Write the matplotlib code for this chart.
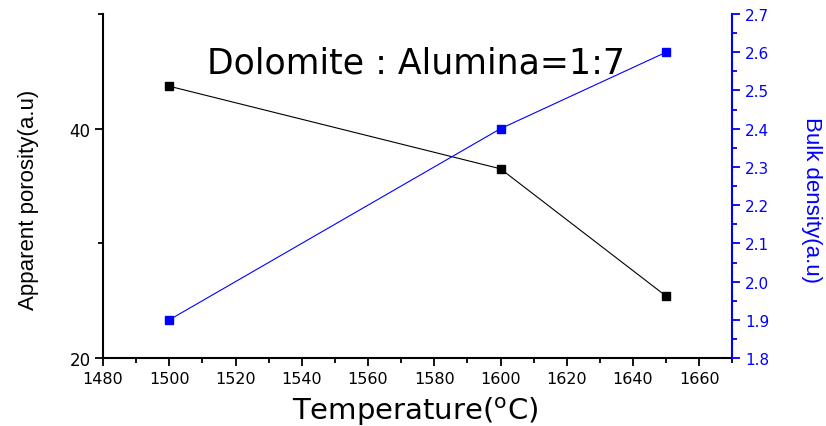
import matplotlib.pyplot as plt
from matplotlib.ticker import MultipleLocator

temperature = [1500, 1600, 1650]
porosity = [43.7, 36.5, 25.4]
bulk_density = [1.9, 2.4, 2.6]

plt.rcParams['font.family'] = ['DejaVu Sans']

fig = plt.figure(figsize=(8.26, 4.27), dpi=100)
ax = fig.add_axes([0.1247, 0.159, 0.762, 0.806])
ax2 = ax.twinx()

# porosity on the left axis
ax.plot(temperature, porosity, color='black', lw=0.8, marker='s', ms=6, mec='black', mfc='black')
# bulk density on the right axis
ax2.plot(temperature, bulk_density, color='blue', lw=0.8, marker='s', ms=6, mec='blue', mfc='blue')

ax.set_xlim(1480, 1670)
ax.set_ylim(20, 50)
ax2.set_ylim(1.8, 2.7)

ax.xaxis.set_major_locator(MultipleLocator(20))
ax.xaxis.set_minor_locator(MultipleLocator(10))
ax.yaxis.set_major_locator(MultipleLocator(20))
ax.yaxis.set_minor_locator(MultipleLocator(10))
ax2.yaxis.set_major_locator(MultipleLocator(0.1))
ax2.yaxis.set_minor_locator(MultipleLocator(0.05))
ax2.yaxis.set_major_formatter(plt.FormatStrFormatter('%.1f'))

for a in (ax, ax2):
    a.spines['top'].set_visible(False)
ax.spines['right'].set_visible(False)
ax.spines['left'].set_linewidth(1.5)
ax.spines['bottom'].set_linewidth(1.5)
ax2.spines['left'].set_visible(False)
ax2.spines['bottom'].set_visible(False)
ax2.spines['right'].set_color('blue')
ax2.spines['right'].set_linewidth(1.5)

ax.tick_params(which='major', direction='out', length=6, width=1.3, labelsize=11.5, pad=3)
ax.tick_params(which='minor', direction='out', length=3.5, width=1.3)
ax.tick_params(axis='y', labelsize=12)
ax2.tick_params(which='major', direction='out', length=6, width=1.3, labelsize=11, pad=3,
                colors='blue')
ax2.tick_params(which='minor', direction='out', length=3.5, width=1.3, colors='blue')

ax.text(0.497, 0.86, 'Dolomite : Alumina=1:7', transform=ax.transAxes, ha='center', va='center',
        fontsize=25)

fig.text(0.034, 0.532, 'Apparent porosity(a.u)', rotation=90, ha='center', va='center',
         fontsize=16, family='Liberation Sans')
fig.text(0.983, 0.532, 'Bulk density(a.u)', rotation=270, ha='center', va='center',
         fontsize=16, family='Liberation Sans', color='blue')
fig.text(0.503, 0.035, 'Temperature($\\mathregular{^{o}}$C)', ha='center', va='center', fontsize=21)

fig.savefig('out.png', dpi=100)
